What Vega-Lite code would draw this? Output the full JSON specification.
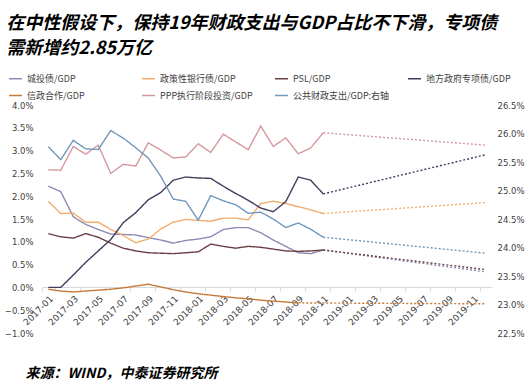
{
  "$schema": "https://vega.github.io/schema/vega-lite/v6.json",
  "width": 450,
  "height": 228,
  "autosize": {"type": "none"},
  "padding": {"left": 42, "top": 105, "right": 39, "bottom": 53},
  "background": "white",
  "title": {
    "text": ["在中性假设下，保持19年财政支出与GDP占比不下滑，专项债", "需新增约2.85万亿"],
    "anchor": "start",
    "orient": "top",
    "font": "Noto Sans CJK SC",
    "fontSize": 18,
    "fontStyle": "italic",
    "fontWeight": "bold",
    "color": "#000000",
    "lineHeight": 25,
    "dx": 2,
    "offset": 13
  },
  "data": {"values": [
    {"m":"2017-01","s":"城投债/GDP","k":"实际","v":2.22},
    {"m":"2017-02","s":"城投债/GDP","k":"实际","v":2.10},
    {"m":"2017-03","s":"城投债/GDP","k":"实际","v":1.55},
    {"m":"2017-04","s":"城投债/GDP","k":"实际","v":1.38},
    {"m":"2017-05","s":"城投债/GDP","k":"实际","v":1.27},
    {"m":"2017-06","s":"城投债/GDP","k":"实际","v":1.17},
    {"m":"2017-07","s":"城投债/GDP","k":"实际","v":1.16},
    {"m":"2017-08","s":"城投债/GDP","k":"实际","v":1.15},
    {"m":"2017-09","s":"城投债/GDP","k":"实际","v":1.09},
    {"m":"2017-10","s":"城投债/GDP","k":"实际","v":1.04},
    {"m":"2017-11","s":"城投债/GDP","k":"实际","v":0.97},
    {"m":"2017-12","s":"城投债/GDP","k":"实际","v":1.03},
    {"m":"2018-01","s":"城投债/GDP","k":"实际","v":1.06},
    {"m":"2018-02","s":"城投债/GDP","k":"实际","v":1.11},
    {"m":"2018-03","s":"城投债/GDP","k":"实际","v":1.27},
    {"m":"2018-04","s":"城投债/GDP","k":"实际","v":1.31},
    {"m":"2018-05","s":"城投债/GDP","k":"实际","v":1.31},
    {"m":"2018-06","s":"城投债/GDP","k":"实际","v":1.20},
    {"m":"2018-07","s":"城投债/GDP","k":"实际","v":1.04},
    {"m":"2018-08","s":"城投债/GDP","k":"实际","v":0.90},
    {"m":"2018-09","s":"城投债/GDP","k":"实际","v":0.76},
    {"m":"2018-10","s":"城投债/GDP","k":"实际","v":0.74},
    {"m":"2018-11","s":"城投债/GDP","k":"实际","v":0.82},
    {"m":"2018-11","s":"城投债/GDP","k":"预测","v":0.82},
    {"m":"2019-12","s":"城投债/GDP","k":"预测","v":0.34},

    {"m":"2017-01","s":"政策性银行债/GDP","k":"实际","v":1.89},
    {"m":"2017-02","s":"政策性银行债/GDP","k":"实际","v":1.62},
    {"m":"2017-03","s":"政策性银行债/GDP","k":"实际","v":1.63},
    {"m":"2017-04","s":"政策性银行债/GDP","k":"实际","v":1.43},
    {"m":"2017-05","s":"政策性银行债/GDP","k":"实际","v":1.43},
    {"m":"2017-06","s":"政策性银行债/GDP","k":"实际","v":1.27},
    {"m":"2017-07","s":"政策性银行债/GDP","k":"实际","v":1.14},
    {"m":"2017-08","s":"政策性银行债/GDP","k":"实际","v":0.98},
    {"m":"2017-09","s":"政策性银行债/GDP","k":"实际","v":1.06},
    {"m":"2017-10","s":"政策性银行债/GDP","k":"实际","v":1.28},
    {"m":"2017-11","s":"政策性银行债/GDP","k":"实际","v":1.43},
    {"m":"2017-12","s":"政策性银行债/GDP","k":"实际","v":1.49},
    {"m":"2018-01","s":"政策性银行债/GDP","k":"实际","v":1.47},
    {"m":"2018-02","s":"政策性银行债/GDP","k":"实际","v":1.45},
    {"m":"2018-03","s":"政策性银行债/GDP","k":"实际","v":1.52},
    {"m":"2018-04","s":"政策性银行债/GDP","k":"实际","v":1.52},
    {"m":"2018-05","s":"政策性银行债/GDP","k":"实际","v":1.48},
    {"m":"2018-06","s":"政策性银行债/GDP","k":"实际","v":1.84},
    {"m":"2018-07","s":"政策性银行债/GDP","k":"实际","v":1.89},
    {"m":"2018-08","s":"政策性银行债/GDP","k":"实际","v":1.84},
    {"m":"2018-09","s":"政策性银行债/GDP","k":"实际","v":1.77},
    {"m":"2018-10","s":"政策性银行债/GDP","k":"实际","v":1.70},
    {"m":"2018-11","s":"政策性银行债/GDP","k":"实际","v":1.62},
    {"m":"2018-11","s":"政策性银行债/GDP","k":"预测","v":1.62},
    {"m":"2019-12","s":"政策性银行债/GDP","k":"预测","v":1.86},

    {"m":"2017-01","s":"PSL/GDP","k":"实际","v":1.18},
    {"m":"2017-02","s":"PSL/GDP","k":"实际","v":1.11},
    {"m":"2017-03","s":"PSL/GDP","k":"实际","v":1.08},
    {"m":"2017-04","s":"PSL/GDP","k":"实际","v":1.18},
    {"m":"2017-05","s":"PSL/GDP","k":"实际","v":1.10},
    {"m":"2017-06","s":"PSL/GDP","k":"实际","v":0.97},
    {"m":"2017-07","s":"PSL/GDP","k":"实际","v":0.86},
    {"m":"2017-08","s":"PSL/GDP","k":"实际","v":0.80},
    {"m":"2017-09","s":"PSL/GDP","k":"实际","v":0.76},
    {"m":"2017-10","s":"PSL/GDP","k":"实际","v":0.75},
    {"m":"2017-11","s":"PSL/GDP","k":"实际","v":0.74},
    {"m":"2017-12","s":"PSL/GDP","k":"实际","v":0.76},
    {"m":"2018-01","s":"PSL/GDP","k":"实际","v":0.78},
    {"m":"2018-02","s":"PSL/GDP","k":"实际","v":0.95},
    {"m":"2018-03","s":"PSL/GDP","k":"实际","v":0.90},
    {"m":"2018-04","s":"PSL/GDP","k":"实际","v":0.86},
    {"m":"2018-05","s":"PSL/GDP","k":"实际","v":0.90},
    {"m":"2018-06","s":"PSL/GDP","k":"实际","v":0.88},
    {"m":"2018-07","s":"PSL/GDP","k":"实际","v":0.84},
    {"m":"2018-08","s":"PSL/GDP","k":"实际","v":0.80},
    {"m":"2018-09","s":"PSL/GDP","k":"实际","v":0.79},
    {"m":"2018-10","s":"PSL/GDP","k":"实际","v":0.80},
    {"m":"2018-11","s":"PSL/GDP","k":"实际","v":0.82},
    {"m":"2018-11","s":"PSL/GDP","k":"预测","v":0.82},
    {"m":"2019-12","s":"PSL/GDP","k":"预测","v":0.39},

    {"m":"2017-01","s":"地方政府专项债/GDP","k":"实际","v":0.00},
    {"m":"2017-02","s":"地方政府专项债/GDP","k":"实际","v":0.00},
    {"m":"2017-03","s":"地方政府专项债/GDP","k":"实际","v":0.27},
    {"m":"2017-04","s":"地方政府专项债/GDP","k":"实际","v":0.55},
    {"m":"2017-05","s":"地方政府专项债/GDP","k":"实际","v":0.80},
    {"m":"2017-06","s":"地方政府专项债/GDP","k":"实际","v":1.05},
    {"m":"2017-07","s":"地方政府专项债/GDP","k":"实际","v":1.42},
    {"m":"2017-08","s":"地方政府专项债/GDP","k":"实际","v":1.64},
    {"m":"2017-09","s":"地方政府专项债/GDP","k":"实际","v":1.92},
    {"m":"2017-10","s":"地方政府专项债/GDP","k":"实际","v":2.08},
    {"m":"2017-11","s":"地方政府专项债/GDP","k":"实际","v":2.35},
    {"m":"2017-12","s":"地方政府专项债/GDP","k":"实际","v":2.42},
    {"m":"2018-01","s":"地方政府专项债/GDP","k":"实际","v":2.40},
    {"m":"2018-02","s":"地方政府专项债/GDP","k":"实际","v":2.39},
    {"m":"2018-03","s":"地方政府专项债/GDP","k":"实际","v":2.22},
    {"m":"2018-04","s":"地方政府专项债/GDP","k":"实际","v":2.06},
    {"m":"2018-05","s":"地方政府专项债/GDP","k":"实际","v":1.91},
    {"m":"2018-06","s":"地方政府专项债/GDP","k":"实际","v":1.74},
    {"m":"2018-07","s":"地方政府专项债/GDP","k":"实际","v":1.66},
    {"m":"2018-08","s":"地方政府专项债/GDP","k":"实际","v":1.88},
    {"m":"2018-09","s":"地方政府专项债/GDP","k":"实际","v":2.42},
    {"m":"2018-10","s":"地方政府专项债/GDP","k":"实际","v":2.35},
    {"m":"2018-11","s":"地方政府专项债/GDP","k":"实际","v":2.05},
    {"m":"2018-11","s":"地方政府专项债/GDP","k":"预测","v":2.05},
    {"m":"2019-12","s":"地方政府专项债/GDP","k":"预测","v":2.91},

    {"m":"2017-01","s":"信政合作/GDP","k":"实际","v":-0.04},
    {"m":"2017-02","s":"信政合作/GDP","k":"实际","v":-0.08},
    {"m":"2017-03","s":"信政合作/GDP","k":"实际","v":-0.10},
    {"m":"2017-04","s":"信政合作/GDP","k":"实际","v":-0.08},
    {"m":"2017-05","s":"信政合作/GDP","k":"实际","v":-0.06},
    {"m":"2017-06","s":"信政合作/GDP","k":"实际","v":-0.04},
    {"m":"2017-07","s":"信政合作/GDP","k":"实际","v":-0.01},
    {"m":"2017-08","s":"信政合作/GDP","k":"实际","v":0.03},
    {"m":"2017-09","s":"信政合作/GDP","k":"实际","v":0.07},
    {"m":"2017-10","s":"信政合作/GDP","k":"实际","v":0.01},
    {"m":"2017-11","s":"信政合作/GDP","k":"实际","v":-0.05},
    {"m":"2017-12","s":"信政合作/GDP","k":"实际","v":-0.10},
    {"m":"2018-01","s":"信政合作/GDP","k":"实际","v":-0.14},
    {"m":"2018-02","s":"信政合作/GDP","k":"实际","v":-0.17},
    {"m":"2018-03","s":"信政合作/GDP","k":"实际","v":-0.20},
    {"m":"2018-04","s":"信政合作/GDP","k":"实际","v":-0.23},
    {"m":"2018-05","s":"信政合作/GDP","k":"实际","v":-0.25},
    {"m":"2018-06","s":"信政合作/GDP","k":"实际","v":-0.28},
    {"m":"2018-07","s":"信政合作/GDP","k":"实际","v":-0.30},
    {"m":"2018-08","s":"信政合作/GDP","k":"实际","v":-0.32},
    {"m":"2018-09","s":"信政合作/GDP","k":"实际","v":-0.34},
    {"m":"2018-09","s":"信政合作/GDP","k":"预测","v":-0.34},
    {"m":"2019-12","s":"信政合作/GDP","k":"预测","v":-0.36},

    {"m":"2017-01","s":"PPP执行阶段投资/GDP","k":"实际","v":2.58},
    {"m":"2017-02","s":"PPP执行阶段投资/GDP","k":"实际","v":2.57},
    {"m":"2017-03","s":"PPP执行阶段投资/GDP","k":"实际","v":3.09},
    {"m":"2017-04","s":"PPP执行阶段投资/GDP","k":"实际","v":2.92},
    {"m":"2017-05","s":"PPP执行阶段投资/GDP","k":"实际","v":3.12},
    {"m":"2017-06","s":"PPP执行阶段投资/GDP","k":"实际","v":2.50},
    {"m":"2017-07","s":"PPP执行阶段投资/GDP","k":"实际","v":2.70},
    {"m":"2017-08","s":"PPP执行阶段投资/GDP","k":"实际","v":2.66},
    {"m":"2017-09","s":"PPP执行阶段投资/GDP","k":"实际","v":3.17},
    {"m":"2017-10","s":"PPP执行阶段投资/GDP","k":"实际","v":3.01},
    {"m":"2017-11","s":"PPP执行阶段投资/GDP","k":"实际","v":2.84},
    {"m":"2017-12","s":"PPP执行阶段投资/GDP","k":"实际","v":2.86},
    {"m":"2018-01","s":"PPP执行阶段投资/GDP","k":"实际","v":3.15},
    {"m":"2018-02","s":"PPP执行阶段投资/GDP","k":"实际","v":2.96},
    {"m":"2018-03","s":"PPP执行阶段投资/GDP","k":"实际","v":3.36},
    {"m":"2018-04","s":"PPP执行阶段投资/GDP","k":"实际","v":3.19},
    {"m":"2018-05","s":"PPP执行阶段投资/GDP","k":"实际","v":3.02},
    {"m":"2018-06","s":"PPP执行阶段投资/GDP","k":"实际","v":3.54},
    {"m":"2018-07","s":"PPP执行阶段投资/GDP","k":"实际","v":3.09},
    {"m":"2018-08","s":"PPP执行阶段投资/GDP","k":"实际","v":3.28},
    {"m":"2018-09","s":"PPP执行阶段投资/GDP","k":"实际","v":2.93},
    {"m":"2018-10","s":"PPP执行阶段投资/GDP","k":"实际","v":3.06},
    {"m":"2018-11","s":"PPP执行阶段投资/GDP","k":"实际","v":3.39},
    {"m":"2018-11","s":"PPP执行阶段投资/GDP","k":"预测","v":3.39},
    {"m":"2019-12","s":"PPP执行阶段投资/GDP","k":"预测","v":3.12},

    {"m":"2017-01","s":"公共财政支出/GDP:右轴","k":"实际","v":25.77},
    {"m":"2017-02","s":"公共财政支出/GDP:右轴","k":"实际","v":25.54},
    {"m":"2017-03","s":"公共财政支出/GDP:右轴","k":"实际","v":25.88},
    {"m":"2017-04","s":"公共财政支出/GDP:右轴","k":"实际","v":25.73},
    {"m":"2017-05","s":"公共财政支出/GDP:右轴","k":"实际","v":25.72},
    {"m":"2017-06","s":"公共财政支出/GDP:右轴","k":"实际","v":26.05},
    {"m":"2017-07","s":"公共财政支出/GDP:右轴","k":"实际","v":25.92},
    {"m":"2017-08","s":"公共财政支出/GDP:右轴","k":"实际","v":25.75},
    {"m":"2017-09","s":"公共财政支出/GDP:右轴","k":"实际","v":25.57},
    {"m":"2017-10","s":"公共财政支出/GDP:右轴","k":"实际","v":25.25},
    {"m":"2017-11","s":"公共财政支出/GDP:右轴","k":"实际","v":24.85},
    {"m":"2017-12","s":"公共财政支出/GDP:右轴","k":"实际","v":24.81},
    {"m":"2018-01","s":"公共财政支出/GDP:右轴","k":"实际","v":24.48},
    {"m":"2018-02","s":"公共财政支出/GDP:右轴","k":"实际","v":24.91},
    {"m":"2018-03","s":"公共财政支出/GDP:右轴","k":"实际","v":24.82},
    {"m":"2018-04","s":"公共财政支出/GDP:右轴","k":"实际","v":24.75},
    {"m":"2018-05","s":"公共财政支出/GDP:右轴","k":"实际","v":24.60},
    {"m":"2018-06","s":"公共财政支出/GDP:右轴","k":"实际","v":24.62},
    {"m":"2018-07","s":"公共财政支出/GDP:右轴","k":"实际","v":24.50},
    {"m":"2018-08","s":"公共财政支出/GDP:右轴","k":"实际","v":24.35},
    {"m":"2018-09","s":"公共财政支出/GDP:右轴","k":"实际","v":24.43},
    {"m":"2018-10","s":"公共财政支出/GDP:右轴","k":"实际","v":24.32},
    {"m":"2018-11","s":"公共财政支出/GDP:右轴","k":"实际","v":24.18},
    {"m":"2018-11","s":"公共财政支出/GDP:右轴","k":"预测","v":24.18},
    {"m":"2019-12","s":"公共财政支出/GDP:右轴","k":"预测","v":23.90}
  ]},
  "encoding": {
    "x": {
      "field": "m", "type": "ordinal",
      "scale": {"type": "band", "paddingInner": 0, "paddingOuter": 0,
        "domain": ["2017-01","2017-02","2017-03","2017-04","2017-05","2017-06","2017-07","2017-08","2017-09","2017-10","2017-11","2017-12","2018-01","2018-02","2018-03","2018-04","2018-05","2018-06","2018-07","2018-08","2018-09","2018-10","2018-11","2018-12","2019-01","2019-02","2019-03","2019-04","2019-05","2019-06","2019-07","2019-08","2019-09","2019-10","2019-11","2019-12"]},
      "axis": {
        "values": ["2017-01","2017-03","2017-05","2017-07","2017-09","2017-11","2018-01","2018-03","2018-05","2018-07","2018-09","2018-11","2019-01","2019-03","2019-05","2019-07","2019-09","2019-11"],
        "offset": -46,
        "labelAngle": -45,
        "labelFont": "DejaVu Sans",
        "labelFontSize": 9,
        "labelColor": "#404040",
        "labelPadding": 3,
        "domainColor": "#D9D9D9",
        "tickColor": "#D9D9D9",
        "tickSize": 4,
        "tickBand": "extent",
        "grid": false,
        "title": "来源：WIND，中泰证券研究所",
        "titleFont": "Noto Sans CJK SC",
        "titleFontSize": 14,
        "titleFontStyle": "italic",
        "titleFontWeight": "bold",
        "titleColor": "#000000",
        "titleAlign": "left",
        "titleBaseline": "middle",
        "titleAnchor": "start",
        "titleX": -17,
        "titleY": 86
      }
    },
    "strokeDash": {
      "field": "k", "type": "nominal",
      "scale": {"domain": ["实际", "预测"], "range": [[1, 0], [2, 2]]},
      "legend": null
    }
  },
  "layer": [
    {
      "transform": [{"filter": "datum.s !== '公共财政支出/GDP:右轴'"}],
      "mark": {"type": "line", "strokeWidth": 1.4},
      "encoding": {
        "y": {
          "field": "v", "type": "quantitative",
          "scale": {"domain": [-1, 4]},
          "axis": {
            "title": null,
            "values": [-1, -0.5, 0, 0.5, 1, 1.5, 2, 2.5, 3, 3.5, 4],
            "labelExpr": "format(datum.value, '.1f') + '%'",
            "domain": false, "ticks": false, "grid": false,
            "labelFont": "DejaVu Sans", "labelFontSize": 8.5, "labelColor": "#404040",
            "labelPadding": 9
          }
        },
        "color": {
          "field": "s", "type": "nominal",
          "scale": {
            "domain": ["城投债/GDP","政策性银行债/GDP","PSL/GDP","地方政府专项债/GDP","信政合作/GDP","PPP执行阶段投资/GDP","公共财政支出/GDP:右轴"],
            "range": ["#8E8AB5","#F2AE6E","#6B4045","#3E3E5E","#C77B3A","#D4999E","#7098BE"]
          },
          "legend": {
            "orient": "none",
            "legendX": -34,
            "legendY": -34,
            "direction": "horizontal",
            "columns": 4,
            "gridAlign": "all",
            "title": null,
            "symbolType": "stroke",
            "symbolStrokeWidth": 1.5,
            "symbolSize": 170,
            "labelFont": "Noto Sans CJK SC",
            "labelFontSize": 9,
            "labelColor": "#404040",
            "columnPadding": 14,
            "rowPadding": 4
          }
        }
      }
    },
    {
      "transform": [{"filter": "datum.s === '公共财政支出/GDP:右轴'"}],
      "mark": {"type": "line", "strokeWidth": 1.4},
      "encoding": {
        "y": {
          "field": "v", "type": "quantitative",
          "scale": {"domain": [22.5, 26.5]},
          "axis": {
            "orient": "right",
            "title": null,
            "values": [22.5, 23, 23.5, 24, 24.5, 25, 25.5, 26, 26.5],
            "labelExpr": "format(datum.value, '.1f') + '%'",
            "domain": false, "ticks": false, "grid": false,
            "labelFont": "DejaVu Sans", "labelFontSize": 8.5, "labelColor": "#404040",
            "labelPadding": 5
          }
        },
        "color": {"field": "s", "type": "nominal"}
      }
    }
  ],
  "resolve": {"scale": {"y": "independent"}},
  "config": {"view": {"stroke": null}}
}
